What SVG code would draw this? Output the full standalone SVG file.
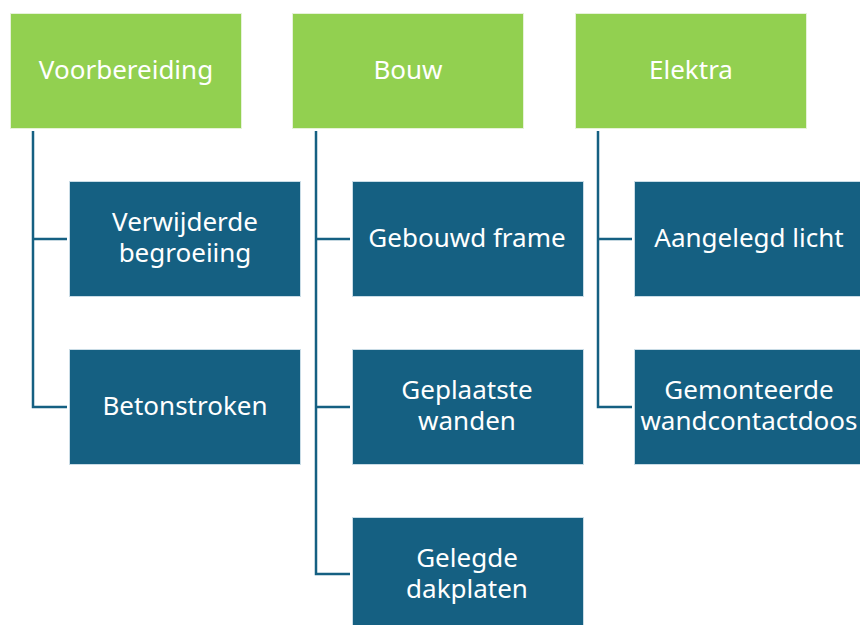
<svg xmlns="http://www.w3.org/2000/svg" width="860" height="625" viewBox="0 0 860 625">
<style>
.g{fill:#92D050;stroke:#E6F2D8;stroke-width:1}
.b{fill:#156082;stroke:#C9DCE6;stroke-width:1}
.t{fill:#fff;font-family:"Noto Sans",sans-serif;font-size:26px;text-anchor:middle;dominant-baseline:central}
.c{fill:none;stroke:#156082;stroke-width:2.5}
</style>
<rect width="860" height="625" fill="#fff"/>
<g id="connectors">
<path class="c" d="M33 131V407H67M33 239H67"/>
<path class="c" d="M316 131V574H350M316 239H350M316 407H350"/>
<path class="c" d="M598 131V407H632M598 239H632"/>
</g>
<g id="voorbereiding"><rect class="g" x="10.5" y="13.5" width="231" height="115"/><text class="t" x="126" y="69">Voorbereiding</text></g>
<g id="bouw"><rect class="g" x="292.5" y="13.5" width="231" height="115"/><text class="t" x="408" y="69">Bouw</text></g>
<g id="elektra"><rect class="g" x="575.5" y="13.5" width="231" height="115"/><text class="t" x="691" y="69">Elektra</text></g>
<g id="verwijderde"><rect class="b" x="69.5" y="181.5" width="231" height="115"/><text class="t" x="185" y="221">Verwijderde</text><text class="t" x="185" y="252">begroeiing</text></g>
<g id="betonstroken"><rect class="b" x="69.5" y="349.5" width="231" height="115"/><text class="t" x="185" y="405">Betonstroken</text></g>
<g id="frame"><rect class="b" x="352.5" y="181.5" width="231" height="115"/><text class="t" x="467" y="237">Gebouwd frame</text></g>
<g id="wanden"><rect class="b" x="352.5" y="349.5" width="231" height="115"/><text class="t" x="467" y="389">Geplaatste</text><text class="t" x="467" y="420">wanden</text></g>
<g id="dakplaten"><rect class="b" x="352.5" y="517.5" width="231" height="115"/><text class="t" x="467" y="557">Gelegde</text><text class="t" x="467" y="588">dakplaten</text></g>
<g id="licht"><rect class="b" x="634.5" y="181.5" width="231" height="115"/><text class="t" x="749" y="237">Aangelegd licht</text></g>
<g id="wandcontactdoos"><rect class="b" x="634.5" y="349.5" width="231" height="115"/><text class="t" x="749" y="389">Gemonteerde</text><text class="t" x="749" y="420">wandcontactdoos</text></g>
</svg>
